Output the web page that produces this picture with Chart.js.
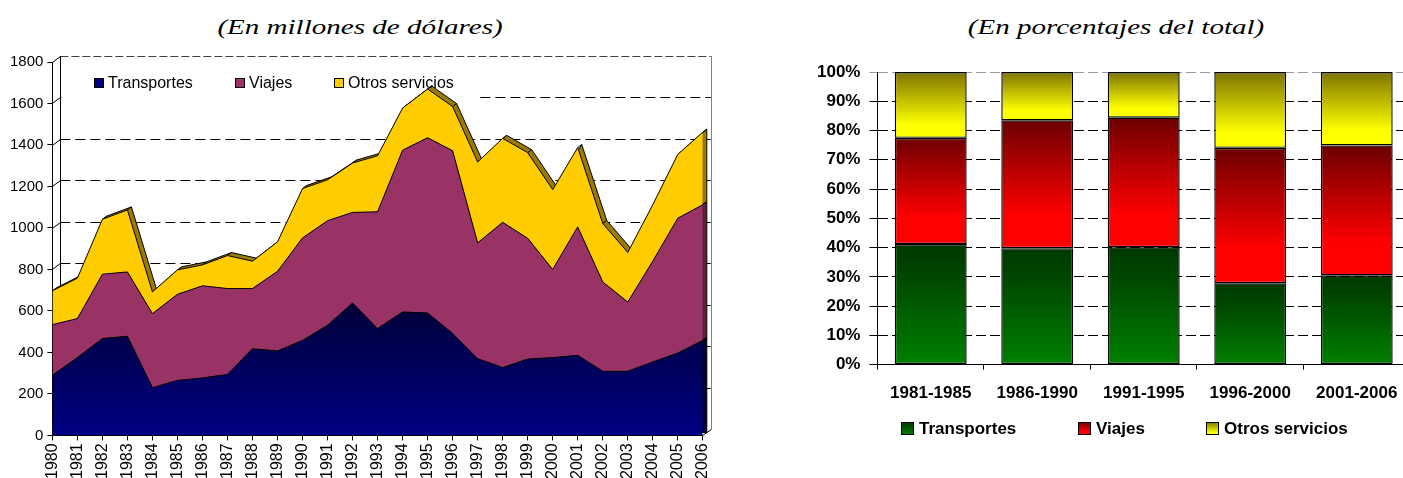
<!DOCTYPE html>
<html lang="es">
<head>
<meta charset="utf-8">
<title>Exportaciones de servicios</title>
<script src="https://cdn.jsdelivr.net/npm/chart.js@4.4.1/dist/chart.umd.min.js"></script>
<style>
    html, body { margin: 0; padding: 0; background: #fff; }
    body { width: 1403px; height: 478px; overflow: hidden; position: relative; }
    .titulo {
        position: absolute;
        top: 16px;
        font: italic 22px/22px "Liberation Serif", "Times New Roman", serif;
        color: #000;
        white-space: nowrap;
        transform: translateX(-50%) scaleX(1.32);
    }
    .panel { position: absolute; }
</style>
</head>
<body>
<div class="titulo" style="left:360px">(En millones de dólares)</div>
<div class="titulo" style="left:1116px">(En porcentajes del total)</div>
<div class="panel" style="left:0;top:45px;width:725px;height:440px"><canvas id="grafico-montos"></canvas></div>
<div class="panel" style="left:780px;top:50px;width:640px;height:428px"><canvas id="grafico-porcentajes"></canvas></div>
<script>
// Exportaciones de servicios por rubro

const anios = ['1980', '1981', '1982', '1983', '1984', '1985', '1986', '1987', '1988', '1989',
    '1990', '1991', '1992', '1993', '1994', '1995', '1996', '1997', '1998', '1999',
    '2000', '2001', '2002', '2003', '2004', '2005', '2006'];
const transportes = [290, 375, 467, 478, 230, 265, 277, 294, 418, 407, 458, 531, 638, 515,
    595, 590, 491, 370, 327, 368, 375, 386, 309, 309, 354, 397, 458];
const viajes = [244, 188, 310, 310, 357, 415, 444, 414, 290, 384, 494, 504, 437, 563,
    780, 845, 881, 558, 700, 582, 425, 619, 431, 334, 486, 650, 654];
const otrosServicios = [163, 195, 265, 299, 105, 118, 101, 159, 132, 142, 238, 197, 238, 270,
    203, 235, 213, 390, 405, 413, 385, 383, 282, 239, 272, 308, 350];

const periodos = ['1981-1985', '1986-1990', '1991-1995', '1996-2000', '2001-2006'];
const pctTransportes = [41.2, 39.8, 40.1, 27.8, 30.5];
const pctViajes = [36.3, 43.7, 44.3, 46.3, 44.4];
const pctOtros = [22.5, 16.5, 15.6, 25.9, 25.1];

const FUENTE = '"Liberation Sans", Arial, sans-serif';

// Degradados verticales de las barras (de arriba hacia abajo)
const DEG_VERDE = [[0, '#003800'], [0.25, '#004600'], [1, '#008000']];
const DEG_ROJO = [[0, '#6c0000'], [0.75, '#ff0000'], [1, '#ff0000']];
const DEG_AMARILLO = [[0, '#7c7400'], [0.8, '#ffff00'], [1, '#ffff00']];

function rellenoCaja(ctx, color, y0, y1) {
    if (typeof color === 'string') return color;
    const g = ctx.createLinearGradient(0, y0, 0, y1);
    color.forEach(([p, c]) => g.addColorStop(p, c));
    return g;
}

/**
 * Posición de cada entrada de la leyenda propia
 */
function posicionesLeyenda(chart, o) {
    const { ctx, chartArea: a } = chart;
    ctx.save();
    ctx.font = `${o.negrita ? 'bold ' : ''}${o.tam}px ${FUENTE}`;
    let x = a.left + o.x;
    const yc = (o.desde === 'abajo' ? a.bottom : a.top) + o.y;
    const items = chart.data.datasets.map((ds, i) => {
        const w = ctx.measureText(ds.label).width;
        const it = { i, texto: ds.label, x: Math.round(x), yc, w };
        x += o.caja + o.sep + w + o.espacio;
        return it;
    });
    ctx.restore();
    return items;
}

const leyenda = {
    id: 'leyenda',
    afterDatasetsDraw(chart, args, o) {
        const { ctx } = chart;
        const items = posicionesLeyenda(chart, o);
        ctx.save();
        ctx.font = `${o.negrita ? 'bold ' : ''}${o.tam}px ${FUENTE}`;
        ctx.textBaseline = 'middle';
        ctx.lineWidth = 1;
        items.forEach(it => {
            const y0 = Math.round(it.yc - o.caja / 2);
            ctx.fillStyle = rellenoCaja(ctx, o.colores[it.i], y0, y0 + o.caja);
            ctx.fillRect(it.x, y0, o.caja, o.caja);
            ctx.strokeStyle = '#000';
            ctx.strokeRect(it.x + 0.5, y0 + 0.5, o.caja - 1, o.caja - 1);
            ctx.fillStyle = '#000';
            ctx.fillText(it.texto, it.x + o.caja + o.sep, it.yc + 1);
        });
        ctx.restore();
    }
};

// Pared del fondo, fondo de la leyenda y caras laterales de las áreas (efecto 3D)
const muro3d = {
    id: 'muro3d',
    beforeDatasetsDraw(chart, args, o) {
        const { ctx, chartArea: a, scales: { y } } = chart;
        const m = o.muro, p = o.area;
        ctx.save();
        ctx.lineWidth = 1;

        y.ticks.forEach(t => {
            const py = Math.round(y.getPixelForValue(t.value)) + 0.5;
            ctx.setLineDash([]);
            ctx.strokeStyle = '#000';
            ctx.beginPath();
            ctx.moveTo(a.left, py);
            ctx.lineTo(a.left + m.dx, py - m.dy);
            ctx.stroke();
            if (t.value === y.min) return;
            const tope = t.value === y.max;
            ctx.setLineDash(tope ? [8, 3] : [10, 5]);
            ctx.strokeStyle = tope ? '#404040' : '#000';
            ctx.beginPath();
            ctx.moveTo(a.left + m.dx, py - m.dy);
            ctx.lineTo(a.right + m.dx, py - m.dy);
            ctx.stroke();
        });
        ctx.setLineDash([]);

        const xl = Math.round(a.left + m.dx) + 0.5;
        const xr = Math.round(a.right + m.dx) + 0.5;
        const yt = a.top - m.dy, yb = a.bottom - m.dy;
        ctx.strokeStyle = '#000';
        ctx.beginPath();
        ctx.moveTo(xl, yt); ctx.lineTo(xl, yb);
        ctx.moveTo(a.right, a.bottom); ctx.lineTo(xr, yb);
        ctx.stroke();
        ctx.strokeStyle = '#808080';
        ctx.beginPath();
        ctx.moveTo(xr, yt); ctx.lineTo(xr, yb);
        ctx.stroke();

        // recuadro blanco detrás de la leyenda
        const ley = chart.options.plugins.leyenda;
        if (ley) {
            const items = posicionesLeyenda(chart, ley);
            const ult = items[items.length - 1];
            const fin = ult.x + ley.caja + ley.sep + ult.w + 22;
            ctx.fillStyle = '#fff';
            ctx.fillRect(xl + 1, Math.ceil(yt) + 2, fin - xl - 1, a.top + 53 - yt - 2);
        }

        // caras laterales, desplazadas hacia el fondo
        const metas = chart.getSortedVisibleDatasetMetas();
        const base = y.getPixelForValue(0);
        metas.forEach((meta, k) => {
            const sup = meta.data;
            const inf = k > 0 ? metas[k - 1].data : null;
            ctx.beginPath();
            sup.forEach((pt, j) => {
                if (j) ctx.lineTo(pt.x + p.dx, pt.y - p.dy);
                else ctx.moveTo(pt.x + p.dx, pt.y - p.dy);
            });
            for (let j = sup.length - 1; j >= 0; j--) {
                ctx.lineTo((inf ? inf[j].x : sup[j].x) + p.dx, (inf ? inf[j].y : base) - p.dy);
            }
            ctx.closePath();
            ctx.fillStyle = o.lados[k];
            ctx.fill();
            ctx.strokeStyle = '#000';
            ctx.stroke();
            ctx.beginPath();
            sup.forEach(pt => {
                ctx.moveTo(pt.x, pt.y);
                ctx.lineTo(pt.x + p.dx, pt.y - p.dy);
            });
            ctx.stroke();
        });
        ctx.restore();
    }
};

function azulDegradado(c) {
    const { chart } = c;
    if (!chart.chartArea) return '#000080';
    const y = chart.scales.y;
    const g = chart.ctx.createLinearGradient(0, y.getPixelForValue(700), 0, y.getPixelForValue(0));
    g.addColorStop(0, '#000030');
    g.addColorStop(1, '#000084');
    return g;
}

/**
 * Gráfico de áreas apiladas en millones de dólares
 */
function initializeMontosChart() {
    const ctx = document.getElementById('grafico-montos').getContext('2d');
    const tick = { color: '#000', font: { family: FUENTE, size: 15 } };

    new Chart(ctx, {
        type: 'line',
        data: {
            labels: anios,
            datasets: [
                { label: 'Transportes', data: transportes, backgroundColor: azulDegradado, fill: 'origin' },
                { label: 'Viajes', data: viajes, backgroundColor: '#993366', fill: '-1' },
                { label: 'Otros servicios', data: otrosServicios, backgroundColor: '#ffcc00', fill: '-1' }
            ]
        },
        options: {
            responsive: true,
            maintainAspectRatio: false,
            animation: false,
            layout: { padding: { top: 17, left: 6, right: 22, bottom: 3 } },
            elements: {
                point: { radius: 0, hoverRadius: 0 },
                line: { tension: 0, borderWidth: 1, borderColor: '#000' }
            },
            plugins: {
                legend: { display: false },
                tooltip: { enabled: false },
                muro3d: {
                    muro: { dx: 8, dy: 6 },
                    area: { dx: 4, dy: 3 },
                    lados: ['#000030', '#5e1f3f', '#9a7a00']
                },
                leyenda: {
                    desde: 'arriba', x: 41.5, y: 21,
                    caja: 10, sep: 4, espacio: 42, tam: 16, negrita: false,
                    colores: ['#000080', '#993366', '#ffcc00']
                }
            },
            scales: {
                x: {
                    offset: false,
                    grid: { drawOnChartArea: false, tickLength: 5, color: '#000' },
                    border: { color: '#000' },
                    ticks: {
                        color: '#000',
                        font: { family: FUENTE, size: 16 },
                        autoSkip: false,
                        maxRotation: 90,
                        minRotation: 90,
                        padding: 3
                    }
                },
                y: {
                    stacked: true,
                    min: 0,
                    max: 1800,
                    grid: { drawOnChartArea: false, tickLength: 5, color: '#000' },
                    border: { color: '#000' },
                    ticks: { ...tick, stepSize: 200, padding: 4, callback: v => String(v) }
                }
            }
        },
        plugins: [muro3d, leyenda]
    });
}

function degradadoBarra(paradas) {
    return (c) => {
        const chart = c.chart;
        if (!chart.chartArea || c.type !== 'data') return paradas[paradas.length - 1][1];
        const y = chart.scales.y;
        const i = c.dataIndex;
        let base = 0;
        for (let d = 0; d < c.datasetIndex; d++) base += chart.data.datasets[d].data[i];
        const tope = base + chart.data.datasets[c.datasetIndex].data[i];
        const g = chart.ctx.createLinearGradient(0, y.getPixelForValue(tope), 0, y.getPixelForValue(base));
        paradas.forEach(([p, col]) => g.addColorStop(p, col));
        return g;
    };
}

/**
 * Gráfico de barras apiladas en porcentajes del total
 */
function initializePorcentajesChart() {
    const ctx = document.getElementById('grafico-porcentajes').getContext('2d');
    const tick = { color: '#000', font: { family: FUENTE, size: 17, weight: 'bold' } };
    const barra = { borderColor: '#000', borderWidth: 1.4, borderSkipped: false, barPercentage: 1, categoryPercentage: 0.675 };

    new Chart(ctx, {
        type: 'bar',
        data: {
            labels: periodos,
            datasets: [
                { label: 'Transportes', data: pctTransportes, backgroundColor: degradadoBarra(DEG_VERDE), ...barra },
                { label: 'Viajes', data: pctViajes, backgroundColor: degradadoBarra(DEG_ROJO), ...barra },
                { label: 'Otros servicios', data: pctOtros, backgroundColor: degradadoBarra(DEG_AMARILLO), ...barra }
            ]
        },
        options: {
            responsive: true,
            maintainAspectRatio: false,
            animation: false,
            layout: { padding: { top: 22, left: 28, right: 10, bottom: 60 } },
            plugins: {
                legend: { display: false },
                tooltip: { enabled: false },
                leyenda: {
                    desde: 'abajo', x: 24, y: 64,
                    caja: 13, sep: 5, espacio: 61, tam: 17, negrita: true,
                    colores: [DEG_VERDE, DEG_ROJO, DEG_AMARILLO]
                }
            },
            scales: {
                x: {
                    stacked: true,
                    grid: { drawOnChartArea: false, offset: true, tickLength: 5, color: '#000' },
                    border: { color: '#000' },
                    ticks: { ...tick, padding: 14, maxRotation: 0 }
                },
                y: {
                    stacked: true,
                    min: 0,
                    max: 100,
                    grid: {
                        tickLength: 8,
                        color: (c) => (c.tick && c.tick.value === 100 ? '#9a9a9a' : '#000')
                    },
                    border: { color: '#000', dash: [10, 4] },
                    ticks: { ...tick, stepSize: 10, padding: 9, callback: v => v + '%' }
                }
            }
        },
        plugins: [leyenda]
    });
}

initializeMontosChart();
initializePorcentajesChart();
</script>
</body>
</html>
